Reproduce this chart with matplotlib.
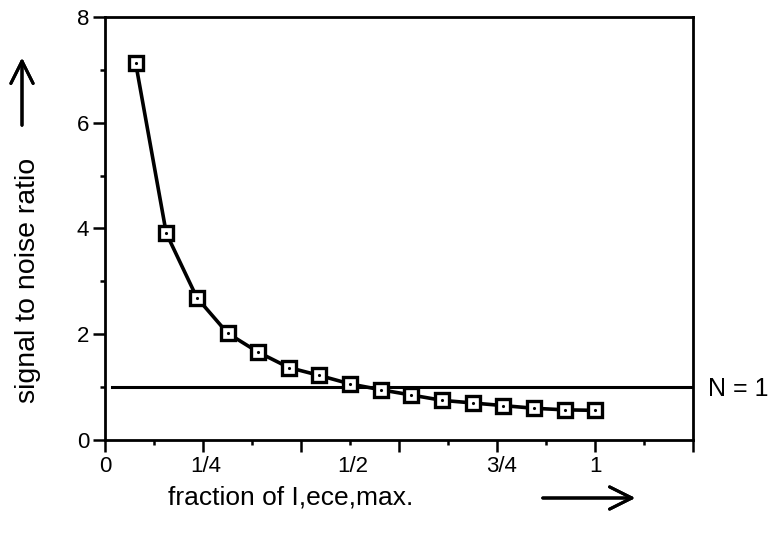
import numpy as np
import matplotlib.pyplot as plt

plt.rcParams['font.family'] = ['Liberation Sans', 'DejaVu Sans']

# fraction of I,ece,max. (16 steps) and signal to noise ratio
frac = [0.0625, 0.125, 0.1875, 0.25, 0.3125, 0.375, 0.4375, 0.5,
        0.5625, 0.625, 0.6875, 0.75, 0.8125, 0.875, 0.9375, 1.0]
snr = [7.13, 3.91, 2.69, 2.02, 1.66, 1.37, 1.22, 1.06,
       0.95, 0.85, 0.75, 0.70, 0.65, 0.60, 0.57, 0.56]

n1_level = 1.0
xtick_pos = [0.0, 0.205, 0.505, 0.81, 1.0]
xtick_txt = ['0', '1/4', '1/2', '3/4', '1']
ytick_pos = [0, 2, 4, 6, 8]

fig = plt.figure(figsize=(7.76, 5.39), dpi=100)
ax = fig.add_axes([0.1353, 0.1837, 0.758, 0.785])

ax.plot([0.014, 1.2], [n1_level, n1_level], color='black', lw=2.2)
ax.plot(frac, snr, color='black', lw=2.6, marker='s', ms=10,
        mfc='white', mec='black', mew=2.4, clip_on=False, zorder=3)
ax.plot(frac, snr, ls='none', marker='.', ms=2.5, color='black', zorder=4)

ax.set_xlim(0, 1.2)
ax.set_ylim(0, 8)

ax.set_xticks(np.arange(0, 1.21, 0.2))
ax.set_xticks(np.arange(0.1, 1.2, 0.2), minor=True)
ax.set_xticklabels([])
ax.set_yticks(ytick_pos)
ax.set_yticks([1, 3, 5, 7], minor=True)
ax.tick_params(which='major', direction='out', length=8.5, width=1.8, labelsize=16, pad=3)
ax.tick_params(which='minor', direction='out', length=3.5, width=1.8)

for s in ax.spines.values():
    s.set_linewidth(2.0)

for p, t in zip(xtick_pos, xtick_txt):
    ax.text(p, -0.5, t, ha='center', va='center', fontsize=16, clip_on=False)

ax.text(1.23, 0.97, 'N = 1', ha='left', va='center', fontsize=18, clip_on=False)

fig.text(28 / 776, 1 - 280 / 539, 'signal to noise ratio', rotation=90,
         ha='center', va='center', fontsize=20.5)
fig.text(291 / 776, 1 - 497 / 539, 'fraction of I,ece,max.',
         ha='center', va='center', fontsize=19)

# the two direction arrows
fig.add_artist(plt.annotate('', xy=(22 / 776, 1 - 55 / 539), xytext=(22 / 776, 1 - 128 / 539),
                            xycoords='figure fraction',
                            arrowprops=dict(arrowstyle='->', lw=2.2, color='black',
                                            mutation_scale=40)))
fig.add_artist(plt.annotate('', xy=(638 / 776, 1 - 498 / 539), xytext=(540 / 776, 1 - 498 / 539),
                            xycoords='figure fraction',
                            arrowprops=dict(arrowstyle='->', lw=2.2, color='black',
                                            mutation_scale=40)))

fig.savefig('out.png', dpi=100)
